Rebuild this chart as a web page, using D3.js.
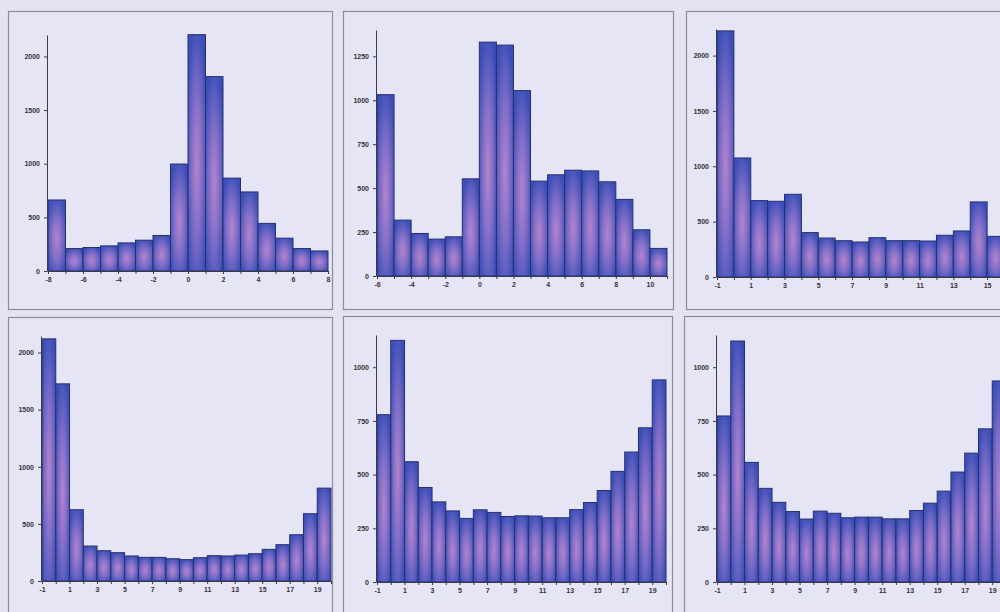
<!DOCTYPE html>
<html>
<head>
<meta charset="utf-8">
<script src="https://cdn.jsdelivr.net/npm/d3@7"></script>
<style>
  body { margin: 0; background: #e4e3f4; }
  svg { display: block; }
</style>
</head>
<body>
<div id="chart"></div>
<script>
// histogram counts, bins are 1 unit wide starting at startN
var start1 = -8
var counts1 = [662, 209, 219, 234, 262, 287, 331, 997, 2203, 1812, 866, 737, 444, 306, 209, 187]
var start2 = -6
var counts2 = [1032, 318, 242, 210, 223, 553, 1331, 1314, 1055, 540, 576, 602, 598, 536, 436, 263, 157]
var start3 = -1
var counts3 = [2223, 1075, 690, 684, 747, 401, 352, 328, 316, 355, 328, 328, 325, 377, 416, 678, 367]
var start4 = -1
var counts4 = [2120, 1726, 624, 306, 265, 248, 219, 207, 207, 195, 187, 204, 222, 219, 227, 239, 277, 318, 405, 589, 813]
var start5 = -1
var counts5 = [779, 1125, 560, 440, 373, 331, 296, 336, 324, 305, 308, 307, 299, 299, 337, 370, 426, 515, 605, 718, 941]
var start6 = -1
var counts6 = [773, 1122, 557, 436, 371, 328, 293, 330, 320, 299, 302, 302, 294, 294, 333, 367, 423, 512, 600, 713, 936]

// tick labels
var xTicks1 = [-8, -6, -4, -2, 0, 2, 4, 6, 8]
var xTicks2 = [-6, -4, -2, 0, 2, 4, 6, 8, 10]
var xTicksOdd = [-1, 1, 3, 5, 7, 9, 11, 13, 15, 17, 19]
var yTicksBig = [0, 500, 1000, 1500, 2000]
var yTicks2 = [0, 250, 500, 750, 1000, 1250]
var yTicksSmall = [0, 250, 500, 750, 1000]

// layout: frame box, plot range and y axis top value
var panels = [
  {counts: counts1, start: start1, xt: xTicks1, yt: yTicksBig, ymax: 2200,
   frame: [8, 11, 324, 298], x0: 48, x1: 328, base: 271, top: 35},
  {counts: counts2, start: start2, xt: xTicks2, yt: yTicks2, ymax: 1400,
   frame: [343, 11, 330, 298], x0: 377, x1: 667, base: 276, top: 30},
  {counts: counts3, start: start3, xt: xTicksOdd, yt: yTicksBig, ymax: 2240,
   frame: [686, 11, 330, 298], x0: 717, x1: 1004, base: 277, top: 29},
  {counts: counts4, start: start4, xt: xTicksOdd, yt: yTicksBig, ymax: 2145,
   frame: [8, 317, 324, 300], x0: 42, x1: 331, base: 581, top: 336},
  {counts: counts5, start: start5, xt: xTicksOdd, yt: yTicksSmall, ymax: 1150,
   frame: [343, 316, 329, 300], x0: 377, x1: 666, base: 582, top: 335},
  {counts: counts6, start: start6, xt: xTicksOdd, yt: yTicksSmall, ymax: 1150,
   frame: [684, 316, 330, 300], x0: 717, x1: 1006, base: 582, top: 335}
]

var svg = d3.select("#chart")
  .append("svg")
    .attr("width", 1000)
    .attr("height", 612)

svg.append("rect")
  .attr("width", 1000)
  .attr("height", 612)
  .attr("fill", "#e4e3f4")

var grad = svg.append("defs")
  .append("radialGradient")
    .attr("id", "barFill")
    .attr("cx", 0.5).attr("cy", 0.55).attr("r", 0.6)
grad.append("stop").attr("offset", "0%").attr("stop-color", "#b584cc")
grad.append("stop").attr("offset", "45%").attr("stop-color", "#8670c8")
grad.append("stop").attr("offset", "100%").attr("stop-color", "#3c4fb8")

panels.forEach(function(p) {
  var g = svg.append("g")

  g.append("rect")
    .attr("x", p.frame[0] + 0.5)
    .attr("y", p.frame[1] + 0.5)
    .attr("width", p.frame[2])
    .attr("height", p.frame[3])
    .attr("fill", "#e6e5f5")
    .attr("stroke", "#8c8c98")
    .attr("stroke-width", 1.2)

  var end = p.start + p.counts.length
  var x = d3.scaleLinear()
    .domain([p.start, end])
    .range([p.x0, p.x1])
  var y = d3.scaleLinear()
    .domain([0, p.ymax])
    .range([p.base, p.top])

  g.selectAll("bars")
    .data(p.counts)
    .enter()
    .append("rect")
      .attr("x", function(d, i) { return x(p.start + i) })
      .attr("y", function(d) { return y(d) })
      .attr("width", function(d, i) { return x(p.start + i + 1) - x(p.start + i) })
      .attr("height", function(d) { return y(0) - y(d) })
      .attr("fill", "url(#barFill)")
      .attr("stroke", "#27306f")
      .attr("stroke-width", 1)

  var xAxis = g.append("g")
    .attr("transform", "translate(0," + p.base + ")")
    .call(d3.axisBottom(x)
      .tickValues(d3.range(p.start, end + 1))
      .tickFormat(function(d) { return p.xt.indexOf(d) >= 0 ? d : "" })
      .tickSize(3)
      .tickSizeOuter(0)
      .tickPadding(3))

  var yAxis = g.append("g")
    .attr("transform", "translate(" + (p.x0 - 1) + ",0)")
    .call(d3.axisLeft(y)
      .tickValues(p.yt)
      .tickFormat(d3.format("d"))
      .tickSize(3)
      .tickSizeOuter(0)
      .tickPadding(4))

  ;[xAxis, yAxis].forEach(function(a) {
    a.selectAll("path, line").attr("stroke", "#3a3a44").attr("stroke-width", 1)
    a.selectAll("text")
      .attr("fill", "#33333b")
      .style("font-family", "'Liberation Sans', Arial, sans-serif")
      .style("font-size", "7px")
      .style("font-weight", "bold")
  })
})
</script>
</body>
</html>
